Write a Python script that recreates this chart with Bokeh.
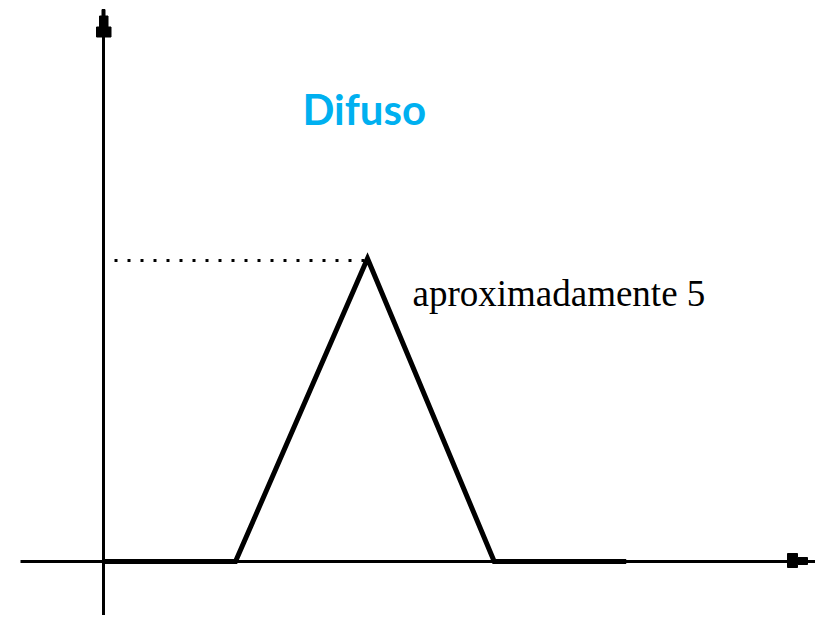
from bokeh.plotting import figure
from bokeh.models import Range1d
from bokeh.core.properties import value
from bokeh.embed import file_html
from bokeh.resources import INLINE

# ---- data (membership function "aproximadamente 5") ----
x_vals = [0, 2.5, 5, 7.4, 9.9]
mu_vals = [0, 0, 1, 0, 0]
peak_x = 5
peak_mu = 1
title_text = "Difuso"
label_text = "aproximadamente 5"

# ---- layout helpers ----
W, H = 815, 615
X_PX = 52.8          # pixels per x unit
Y_PX = 303.0         # pixels per membership unit
OX, OY = 103, 561    # origin in canvas pixels

def dx(px):
    return px / X_PX

def dy(px):
    return px / Y_PX

p = figure(width=W, height=H, output_backend="svg", toolbar_location=None,
           x_axis_type=None, y_axis_type=None, title=None, min_border=0,
           x_range=Range1d(-OX / X_PX, (W - OX) / X_PX),
           y_range=Range1d(-(H - OY) / Y_PX, OY / Y_PX))
p.grid.visible = False
p.outline_line_color = None
p.background_fill_color = "white"
p.border_fill_color = "white"

xr0, xr1 = p.x_range.start, p.x_range.end
yr0, yr1 = p.y_range.start, p.y_range.end

# axes lines
p.line([dx(20 - 103), dx(817 - 103)], [0, 0], line_color="black", line_width=3)
p.line([0, 0], [yr0, yr1 - dy(9)], line_color="black", line_width=3)

# up arrow head (blocky)
ax = [dx(-1.5), dx(1.5), dx(1.5), dx(4.5), dx(4.5), dx(7.5), dx(7.5), dx(-7), dx(-7), dx(-4), dx(-4), dx(-1.5)]
ay_top = yr1
ay = [ay_top - dy(9), ay_top - dy(9), ay_top - dy(15.5), ay_top - dy(15.5), ay_top - dy(26.5),
      ay_top - dy(26.5), ay_top - dy(36.5), ay_top - dy(36.5), ay_top - dy(26.5), ay_top - dy(26.5),
      ay_top - dy(15.5), ay_top - dy(15.5)]
p.patch(ax, ay, fill_color="black", line_color="black", line_width=1)

# right arrow head (blocky)
r0 = dx(787 - 103)
r1 = dx(797 - 103)
r2 = dx(807 - 103)
rx = [r0, r1, r1, r2, r2, r1, r1, r0]
ry = [dy(8), dy(8), dy(4), dy(4), dy(-3), dy(-3), dy(-6), dy(-6)]
p.patch(rx, ry, fill_color="black", line_color="black", line_width=1)

# dotted guide line at membership 1
p.line([dx(11), peak_x], [peak_mu - dy(2), peak_mu - dy(2)], line_color="black",
       line_width=3, line_dash="3 10")

# membership function
p.line(x_vals, mu_vals, line_color="black", line_width=5, line_join="miter")

# texts
p.text(x=[peak_x + dx(412 - 367)], y=[peak_mu - dy(293 - 258)], text=[label_text],
       text_font=value("Liberation Serif"), text_font_size="37px", text_color="black",
       text_align="left", text_baseline="alphabetic")
p.text(x=[peak_x + dx(302 - 367)], y=[peak_mu + dy(258 - 108)], text=[title_text],
       text_font=value("Lato"), text_font_style="bold", text_font_size="42px",
       text_color="#00B0F0", text_align="left", text_baseline="alphabetic")

open("out.html", "w").write(file_html(p, INLINE))
